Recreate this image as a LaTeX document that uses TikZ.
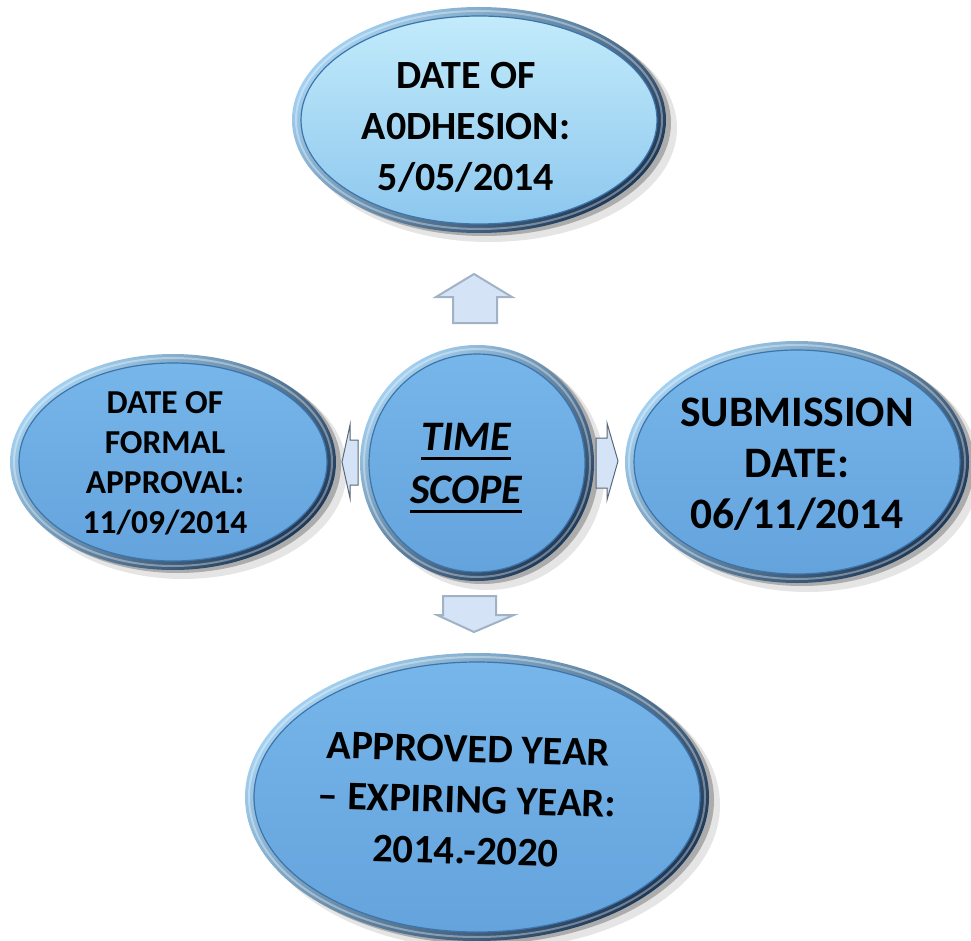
\documentclass[tikz,border=0pt]{standalone}
\usepackage{fontspec}
\setmainfont{Carlito}
\usetikzlibrary{shapes.geometric}
\definecolor{rimL}{HTML}{A3D0F0}
\definecolor{rimD}{HTML}{203A58}
\definecolor{bevel}{HTML}{3F74A8}
\definecolor{topA}{HTML}{C2EBFB}
\definecolor{topB}{HTML}{8DC7EE}
\definecolor{midA}{HTML}{76B6EA}
\definecolor{midB}{HTML}{64A3DC}
\definecolor{arrfill}{HTML}{D5E3F6}
\definecolor{arredge}{HTML}{A2B2C6}
\definecolor{arrdark}{HTML}{5A6878}
\tikzset{
  bubble/.style={ellipse, inner sep=0pt, outer sep=0pt, draw=bevel, line width=1.2pt},
  txt/.style={inner sep=0pt, align=center, text=black, font=\bfseries},
  arrowshape/.style={fill=arrfill, draw=arredge, line width=2pt, line join=miter},
}
\newcommand\mkbubble[6]{%
  \fill[black,opacity=0.10] (#2+10,#3+8) ellipse [x radius=#4+1, y radius=#5+1];
  \fill[black,opacity=0.25] (#2+5,#3+3) ellipse [x radius=#4, y radius=#5];
  \shade[top color=rimL, bottom color=rimD, shading angle=45] (#2,#3) ellipse [x radius=#4, y radius=#5];
  \draw[white, opacity=0.35, line width=2pt] (#2,#3) ellipse [x radius=#4-4, y radius=#5-4];
  \node[bubble, minimum width={2*(#4-9)}, minimum height={2*(#5-9)}, #6] (#1) at (#2,#3) {};
}
\newcommand\thul[1]{\setbox0\hbox{#1}\rlap{\raisebox{-9.5pt}{\rule{\wd0}{3pt}}}\box0}
\begin{document}
\begin{tikzpicture}[x=1pt, y=-1pt]
\useasboundingbox (0,0) rectangle (971,941);
% bubbles
\mkbubble{top}{479}{120}{187}{113}{top color=topA, bottom color=topB}
\mkbubble{left}{173}{462}{163}{108}{top color=midA, bottom color=midB}
\mkbubble{right}{797}{462}{172}{121}{top color=midA, bottom color=midB}
\mkbubble{bottom}{477}{797}{232}{144}{top color=midA, bottom color=midB}
\mkbubble{ctr}{477}{463}{117}{118}{top color=midA, bottom color=midB}
% texts
\node[txt, font=\bfseries\fontsize{40}{51}\selectfont] (topt) at (466,127) {DATE OF\\A0DHESION:\\5/05/2014};
\node[txt, font=\bfseries\fontsize{33.5}{40}\selectfont] (leftt) at (165,463) {DATE OF\\FORMAL\\APPROVAL:\\11/09/2014};
\node[txt, font=\bfseries\fontsize{43.5}{51}\selectfont] (rightt) at (797,464) {SUBMISSION\\DATE:\\06/11/2014};
\node[txt, rotate=-1.6, font=\bfseries\fontsize{40.5}{51}\selectfont] (bottomt) at (467,800) {APPROVED YEAR\\– EXPIRING YEAR:\\2014.-2020};
\node[txt, font=\bfseries\itshape\fontsize{42}{53}\selectfont] (ctrt) at (466,468) {\thul{TIME}\\\thul{SCOPE}};
% arrows
\coordinate (aup) at (474,298);
\coordinate (adown) at (474,614);
\coordinate (aleft) at (350,462);
\coordinate (aright) at (607,461);
\filldraw[arrowshape] (aup) ++(-21,25) -- ++(0,-26) -- ++(-17,0) -- ++(38,-23) -- ++(38,23) -- ++(-15,0) -- ++(0,26) -- cycle;
\filldraw[arrowshape] (adown) ++(-31,-18) -- ++(53,0) -- ++(0,19) -- ++(18,0) -- ++(-40,17) -- ++(-37,-17) -- ++(6,0) -- cycle;
\filldraw[arrowshape, draw=arrdark, line width=1pt] (aleft) ++(8,-22) -- ++(-8,0) -- ++(0,-15) -- ++(-8,37) -- ++(8,36) -- ++(0,-13) -- ++(8,0) -- cycle;
\filldraw[arrowshape, draw=arrdark, line width=1pt] (aright) ++(-11,-23) -- ++(11,0) -- ++(0,-15) -- ++(11,38) -- ++(-11,39) -- ++(0,-12) -- ++(-11,0) -- cycle;
\end{tikzpicture}
\end{document}
